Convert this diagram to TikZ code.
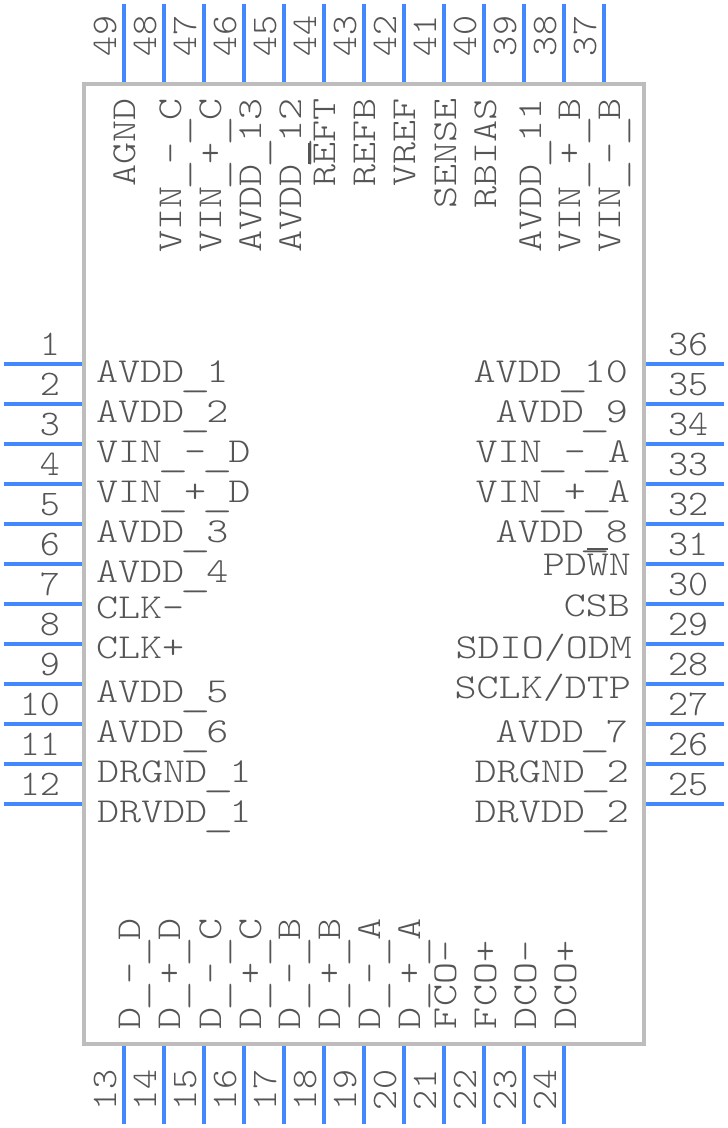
\documentclass[tikz,border=0pt]{standalone}
\usepackage{fontspec}
\newfontfamily\pinname[FakeStretch=1.2]{Latin Modern Mono Light}
\newfontfamily\pinnum[FakeStretch=1.06]{Latin Modern Mono Light}
\definecolor{pinblue}{HTML}{4488FF}
\definecolor{bodygray}{HTML}{BDBDBD}
\definecolor{textgray}{HTML}{555555}
\newcommand\barc[1]{\makebox[0pt][l]{\rule[25pt]{21pt}{1.8pt}}#1}
\newcommand\us{\makebox[22.05pt][c]{\raisebox{-4pt}{\scalebox{1.4}[1]{\_}}}}
\tikzset{
  x=1pt,y=-1pt,
  pinline/.style={draw=pinblue,line width=4pt},
  bodybox/.style={draw=bodygray,line width=4pt,fill=white},
  lbl/.style={inner sep=0pt,outer sep=0pt,text=textgray,font=\fontsize{35}{35}\pinname},
  num/.style={inner sep=0pt,outer sep=0pt,text=textgray,font=\fontsize{36}{36}\pinnum},
}
\begin{document}
\begin{tikzpicture}
\useasboundingbox (0,0) rectangle (728,1128);
\draw[bodybox] (84,84) rectangle (644,1044);
% pins
\foreach \k in {0,...,12} \draw[pinline] ({124+40*\k},4) -- ({124+40*\k},82);
\foreach \k in {0,...,11} {
  \draw[pinline] (4,{364+40*\k}) -- (82,{364+40*\k});
  \draw[pinline] (646,{364+40*\k}) -- (724,{364+40*\k});
  \draw[pinline] ({124+40*\k},1046) -- ({124+40*\k},1124);
}
% left numbers
\foreach \n [count=\i from 0] in {1,...,12}
  \node[num,anchor=base east] (nl\n) at (60,{355+40*\i}) {\n};
% right numbers
\foreach \n [count=\i from 0] in {36,35,...,25}
  \node[num,anchor=base west] (nr\n) at (668,{355+40*\i}) {\n};
% top numbers
\foreach \n [count=\i from 0] in {49,48,...,37}
  \node[num,rotate=90,anchor=base west] (nt\n) at ({116+40*\i},56) {\n};
% bottom numbers
\foreach \n [count=\i from 0] in {13,...,24}
  \node[num,rotate=90,anchor=base west] (nb\n) at ({116+40*\i},1110) {\n};
% left names
\foreach \t/\y/\x/\nm in {AVDD\us 1/382/96/a,AVDD\us 2/422/96/b,VIN\us -\us D/462/96/c,VIN\us +\us D/502/96/d,AVDD\us 3/542/96/e,AVDD\us 4/582/96/f,CLK-/618/96/g,CLK+/658/96/h,AVDD\us 5/702/96/i,AVDD\us 6/742/96/j,DRGND\us 1/782/97/k,DRVDD\us 1/822/97/l}
  \node[lbl,anchor=base west] (L\nm) at (\x,\y) {\t};
% right names
\foreach \t/\y/\x/\nm in {AVDD\us 10/382/628/a,AVDD\us 9/422/628/b,VIN\us -\us A/462/630/c,VIN\us +\us A/502/630/d,AVDD\us 8/542/628/e,PD\barc{W}N/575/631/f,CSB/616/630/g,{SDIO/ODM}/658/632/h,{SCLK/DTP}/698/631/i,AVDD\us 7/742/628/j,DRGND\us 2/782/629/k,DRVDD\us 2/822/629/l}
  \node[lbl,anchor=base east] (R\nm) at (\x,\y) {\t};
% top names
\foreach \t/\x/\y/\nm in {AGND/135/98/a,VIN\us -\us C/181/98/b,VIN\us +\us C/221/98/c,AVDD\us 13/261/98/d,AVDD\us 12/301/98/e,R\barc{E}FT/335/98/f,REFB/375/98/g,VREF/415/98/h,SENSE/456/98/i,RBIAS/496/98/j,AVDD\us 11/541/98/k,VIN\us +\us B/580/98/l,VIN\us -\us B/620/98/m}
  \node[lbl,rotate=90,anchor=base east] (T\nm) at (\x,\y) {\t};
% bottom names
\foreach \t/\x/\nm in {D\us -\us D/140/a,D\us +\us D/180/b,D\us -\us C/221/c,D\us +\us C/261/d,D\us -\us B/300/e,D\us +\us B/340/f,D\us -\us A/380/g,D\us +\us A/420/h,FCO-/456/i,FCO+/496/j,DCO-/536/k,DCO+/576/l}
  \node[lbl,rotate=90,anchor=base west] (B\nm) at (\x,1029) {\t};
\end{tikzpicture}
\end{document}
